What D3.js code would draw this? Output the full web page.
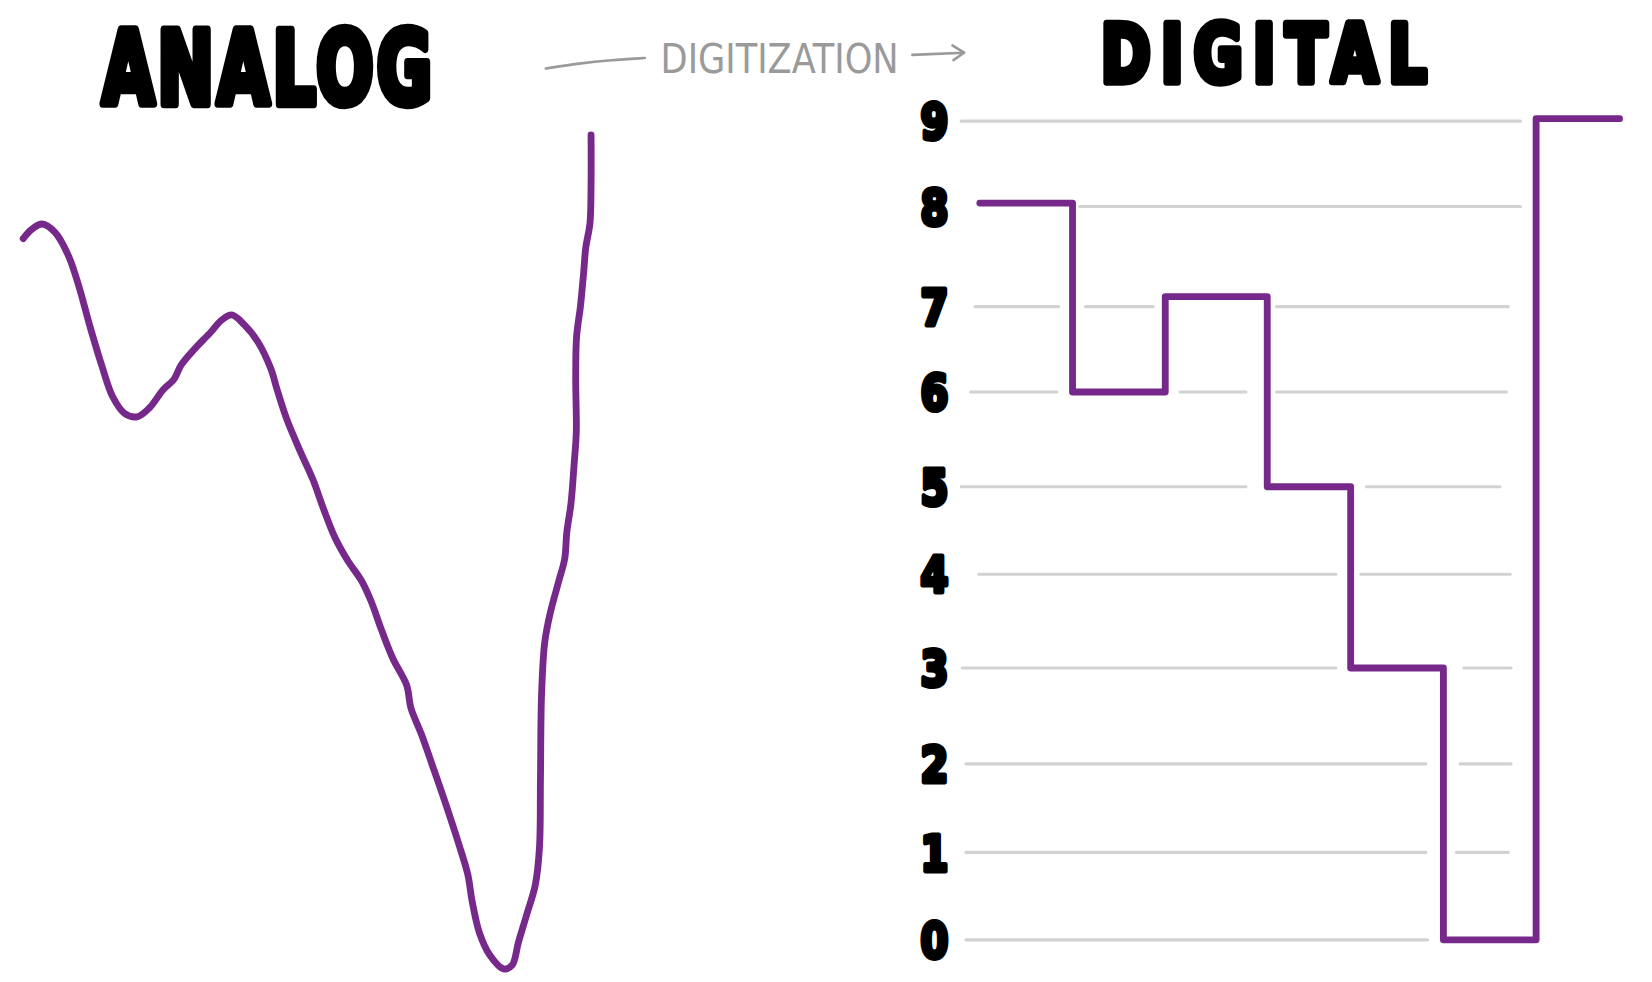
<!DOCTYPE html>
<html><head><meta charset="utf-8">
<script src="https://cdn.jsdelivr.net/npm/d3@7"></script>
<style>html,body{margin:0;padding:0;background:#fff;overflow:hidden}</style>
</head><body>
<svg id="chart"></svg>
<script>
// ---------- data ----------
const levelLabels = ["0","1","2","3","4","5","6","7","8","9"];
const levels = [0,1,2,3,4,5,6,7,8,9];

// analog signal: time (0-100) and amplitude (same units as digital levels)
const analogT = [0,1.48,3.34,5.57,7.98,9.83,11.69,13.91,15.77,17.81,20.04,22.26,24.68,26.53,27.83,30.24,33.02,34.88,36.73,38.96,41.37,43.6,44.71,46.38,48.79,51.02,52.88,54.92,57.14,59.55,61.22,63.08,65.12,67.53,68.27,70.13,71.99,74.21,76.62,78.29,79.04,80.33,82.19,84.6,86.09,87.2,88.68,90.17,90.91,91.09,91.28,91.84,92.76,94.25,95.36,95.73,96.47,97.03,97.4,97.3,97.45,98.14,98.7,99.07,99.81,100,100];
const analogV = [7.71,7.81,7.87,7.78,7.52,7.18,6.76,6.3,5.97,5.79,5.75,5.85,6.05,6.16,6.32,6.5,6.68,6.81,6.87,6.76,6.57,6.28,6.05,5.73,5.37,5.06,4.74,4.42,4.17,3.95,3.73,3.41,3.09,2.8,2.55,2.26,1.93,1.53,1.07,0.72,0.43,0.08,-0.17,-0.32,-0.28,-0.03,0.28,0.6,1.01,1.76,2.69,3.27,3.58,3.93,4.19,4.48,4.8,5.24,5.58,6.16,6.63,6.97,7.34,7.61,7.88,8.31,8.85];

// digital signal: sample times and quantized values
const sampleT = [0,1,2,3.1,4,5,6,6.9];
const digitalV = [8.04,6,7.1,5,3,0,9.03,9.03];

// gridline pieces per level: [level, tStart, tEnd] (digital time units)
const gridPieces = [
  [9,-0.2,5.83],
  [8,1.08,5.83],
  [7,-0.05,0.85],[7,1.14,1.87],[7,3.2,5.7],
  [6,-0.1,0.83],[6,2.16,2.87],[6,3.2,5.68],
  [5,-0.2,2.87],[5,4.17,5.61],
  [4,-0.01,3.84],[4,4.11,5.72],
  [3,-0.19,3.84],[3,5.22,5.73],
  [2,-0.15,4.81],[2,5.18,5.73],
  [1,-0.15,4.81],[1,5.14,5.7],
  [0,-0.15,4.83]
];

const titleLeft = "ANALOG";
const titleRight = "DIGITAL";
const middleLabel = "DIGITIZATION";

// ---------- drawing ----------
const W = 1568, H = 932;
const purple = "#76298a";
const svg = d3.select("#chart")
  .attr("width", 1652).attr("height", 982)
  .attr("viewBox", `0 0 ${W} ${H}`);

// hand-drawn level positions (uneven spacing as in the sketch)
const y = d3.scaleLinear().domain(levels).range([892,809,725,634,545,462,372,291,196,115]);
const xA = d3.scaleLinear().domain([0, 100]).range([22, 561]);
const xD = d3.scaleLinear().domain([0, 1]).range([930, 1018]);

// titles (stretched vertically for the tall marker lettering)
function title(txt, x, yBase, size, len, sy) {
  svg.append("g").attr("transform", `translate(${x},${yBase}) scale(1,${sy})`)
    .append("text").text(txt)
    .attr("x", 0).attr("y", 0).attr("font-size", size)
    .attr("font-family", "'DejaVu Sans Condensed','DejaVu Sans',sans-serif")
    .attr("font-weight", "bold")
    .attr("fill", "#000").attr("stroke", "#000")
    .attr("stroke-width", 6).attr("stroke-linejoin", "round")
    .attr("textLength", len).attr("lengthAdjust", "spacing");
}
title(titleLeft, 97, 99, 71, 313, 1.36);
title(titleRight, 1045, 78, 63, 309, 1.2);

// digitization label with arrow
const g = svg.append("g").attr("stroke", "#9a9a9a").attr("fill", "none")
  .attr("stroke-width", 2.5).attr("stroke-linecap", "round").attr("stroke-linejoin", "round");
g.append("path").attr("d", d3.line().curve(d3.curveBasis)([[518,65],[550,60],[580,57],[612,55]]));
g.append("path").attr("d", d3.line()([[866,52],[915,50]]));
g.append("path").attr("d", d3.line()([[904,43],[915,50],[905,57]]));
svg.append("text").text(middleLabel)
  .attr("x", 627).attr("y", 69).attr("font-size", 38)
  .attr("font-family", "'DejaVu Sans Condensed','DejaVu Sans',sans-serif")
  .attr("font-weight", 300)
  .attr("textLength", 226).attr("lengthAdjust", "spacingAndGlyphs")
  .attr("fill", "#9a9a9a");

// gridlines
svg.append("g").selectAll("line").data(gridPieces).join("line")
  .attr("x1", d => xD(d[1])).attr("x2", d => xD(d[2]))
  .attr("y1", d => y(d[0])).attr("y2", d => y(d[0]))
  .attr("stroke", "#d2d2d2").attr("stroke-width", 3).attr("stroke-linecap", "round");

// level labels
svg.append("g").selectAll("g").data(levels).join("g")
  .attr("transform", d => `translate(887,${y(d)}) scale(0.95,1.2)`)
  .append("text")
  .text(d => levelLabels[d])
  .attr("dy", "0.36em")
  .attr("text-anchor", "middle")
  .attr("font-family", "'DejaVu Sans',sans-serif")
  .attr("font-weight", "bold").attr("font-size", 40)
  .attr("fill", "#000").attr("stroke", "#000").attr("stroke-width", 4)
  .attr("stroke-linejoin", "round");

// analog line
const analogData = analogT.map((t, i) => [t, analogV[i]]);
const yA = d3.scaleLinear().domain([0, 9]).range([892, 115]);
svg.append("path").datum(analogData)
  .attr("d", d3.line().x(d => xA(d[0])).y(d => yA(d[1])).curve(d3.curveCatmullRom.alpha(0.5)))
  .attr("fill", "none").attr("stroke", purple).attr("stroke-width", 6.5)
  .attr("stroke-linecap", "round").attr("stroke-linejoin", "round");

// digital step line
const digitalData = sampleT.map((t, i) => [t, digitalV[i]]);
svg.append("path").datum(digitalData)
  .attr("d", d3.line().x(d => xD(d[0])).y(d => y(d[1])).curve(d3.curveStepAfter))
  .attr("fill", "none").attr("stroke", purple).attr("stroke-width", 6.5)
  .attr("stroke-linecap", "round").attr("stroke-linejoin", "round");
</script>
</body></html>
